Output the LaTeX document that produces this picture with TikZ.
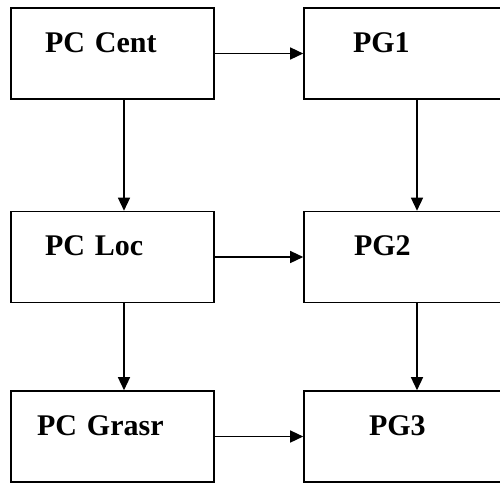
\documentclass[tikz,border=0pt]{standalone}
\usepackage{fontspec}
\setmainfont{Liberation Serif}
\usepackage{tikz}
\usetikzlibrary{arrows.meta}

\begin{document}
\begin{tikzpicture}[x=1pt, y=-1pt,
    box/.style={draw, line width=1.6pt, minimum width=203pt, minimum height=91pt,
      text width=203pt, inner xsep=0pt, align=left, text height=20pt, text depth=23pt,
      font=\fontsize{30}{36}\selectfont\bfseries, execute at begin node={\hspace*{#1}}},
    arr/.style={-{Triangle[length=13pt, width=12pt]}, line width=1.4pt}]
  \useasboundingbox (0,0) rectangle (500,483);
  \clip (0,0) rectangle (500,483);
  \node[box=34pt] (cent) at (112.5,53.5) {PC Cent};
  \node[box=49pt] (pg1) at (405.5,53.5) {PG1};
  \node[box=34pt] (loc) at (112.5,257) {PC Loc};
  \node[box=50pt] (pg2) at (405.5,257) {PG2};
  \node[box=26pt] (grasr) at (112.5,436.5) {PC Grasr};
  \node[box=65pt] (pg3) at (405.5,436.5) {PG3};
  \draw[arr] (cent) -- (pg1);
  \draw[arr] (loc) -- (pg2);
  \draw[arr] (grasr) -- (pg3);
  \draw[arr] ([xshift=11.5pt]cent.south) -- ([xshift=11.5pt]loc.north);
  \draw[arr] ([xshift=11.5pt]loc.south) -- ([xshift=11.5pt]grasr.north);
  \draw[arr] ([xshift=11.5pt]pg1.south) -- ([xshift=11.5pt]pg2.north);
  \draw[arr] ([xshift=11.5pt]pg2.south) -- ([xshift=11.5pt]pg3.north);
\end{tikzpicture}
\end{document}
